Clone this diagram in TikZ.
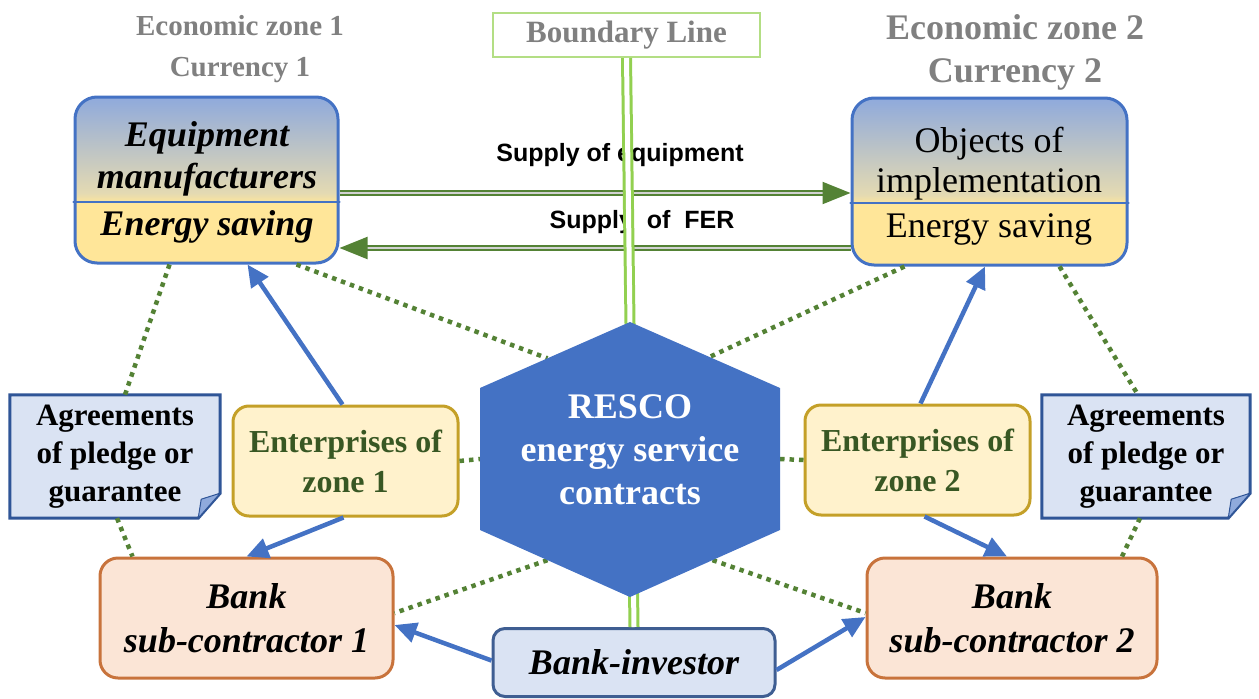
\documentclass[tikz,border=0pt]{standalone}
\usepackage{fontspec}
\setmainfont{Liberation Serif}
\newfontfamily\arialfont{Liberation Sans}
\usetikzlibrary{arrows.meta,calc,backgrounds}

\definecolor{zoneblue}{RGB}{143,170,220}
\definecolor{zonemid}{RGB}{228,218,178}
\definecolor{zoneyellow}{RGB}{255,230,153}
\definecolor{boxblue}{RGB}{68,114,196}
\definecolor{entfill}{RGB}{255,242,204}
\definecolor{entgold}{RGB}{196,160,40}
\definecolor{enttext}{RGB}{56,87,35}
\definecolor{agrfill}{RGB}{218,227,243}
\definecolor{agrdraw}{RGB}{47,85,151}
\definecolor{bankfill}{RGB}{251,229,214}
\definecolor{bankdraw}{RGB}{200,115,60}
\definecolor{dotgreen}{RGB}{84,130,53}
\definecolor{linegreen}{RGB}{146,208,80}
\definecolor{labelgray}{RGB}{128,128,128}

\pgfdeclareverticalshading{zoneshade}{100bp}{color(0bp)=(zoneyellow); color(25bp)=(zoneyellow); color(43bp)=(zoneyellow); color(46bp)=(zonemid); color(75bp)=(zoneblue); color(100bp)=(zoneblue)}

\newcommand\fsz[2]{\fontsize{#1}{#2}\selectfont}

\begin{document}
\begin{tikzpicture}[x=1pt, y=-1pt, line cap=round,
        zonebox/.style={draw=boxblue, line width=3pt, rounded corners=22pt,
                        shade, shading=zoneshade, minimum height=166pt},
        zonetext/.style={align=center, inner sep=0pt},
        headtext/.style={align=center, text=labelgray, inner sep=0pt},
        entbox/.style={draw=entgold, line width=3pt, fill=entfill, rounded corners=16pt,
                       minimum width=225pt, minimum height=110pt, inner sep=0pt, align=center,
                       text=enttext, font=\fsz{32}{40}\bfseries},
        agrtext/.style={align=center, minimum width=210pt, minimum height=123pt,
                        inner sep=0pt, font=\fsz{31}{38}\bfseries},
        agrbox/.style={draw=agrdraw, line width=3pt, fill=agrfill},
        bankbox/.style={draw=bankdraw, line width=3pt, fill=bankfill, rounded corners=18pt,
                        minimum height=120pt, inner sep=0pt, align=center,
                        font=\fsz{36}{44}\bfseries\itshape},
        bluearrow/.style={draw=boxblue, line width=4.5pt, line cap=butt,
                          -{Triangle[length=22pt,width=20pt]}},
        dotline/.style={draw=dotgreen, line width=4.5pt, line cap=butt,
                        dash pattern=on 4.5pt off 5pt},
        supply/.style={draw=dotgreen, line width=2pt, double=gray!35, double distance=2pt,
                       line cap=butt, -{Triangle[length=28pt,width=22pt]}},
        supplylbl/.style={inner sep=0pt, font=\fsz{25}{30}\arialfont\bfseries}
                     ]
\useasboundingbox (0,0) rectangle (1259,699);

\node[headtext, font=\fsz{29}{41}\bfseries] (zone1) at (240,49) {Economic zone 1\\Currency 1};
\node[headtext, font=\fsz{36}{43}\bfseries] (zone2) at (1015,52) {Economic zone 2\\Currency 2};
\node[draw=linegreen!70, line width=2pt, fill=white, minimum width=267pt, minimum height=44pt,
      inner sep=0pt, text=labelgray, font=\fsz{31}{36}\bfseries] (bline) at (626.5,35) {Boundary Line};

\node[zonebox, minimum width=263pt] (eqm) at (206.5,180) {};
\draw[boxblue, line width=2.5pt] ([yshift=-22pt]eqm.west) -- ([yshift=-22pt]eqm.east);
\node[zonetext, font=\fsz{36}{42}\bfseries\itshape] (eqmname) at (207,159) {Equipment\\manufacturers};
\node[zonetext, font=\fsz{36}{42}\bfseries\itshape] (eqmsave) at (207,227) {Energy saving};

\node[zonebox, minimum width=275pt, minimum height=167pt] (obj) at (989.5,181.5) {};
\draw[boxblue, line width=2.5pt] ([yshift=-21.5pt]obj.west) -- ([yshift=-21.5pt]obj.east);
\node[zonetext, font=\fsz{36}{40}] (objname) at (989,164) {Objects of\\implementation};
\node[zonetext, font=\fsz{36}{40}] (objsave) at (989,229) {Energy saving};

\node[entbox] (ent1) at (345.5,461) {Enterprises of\\zone 1};
\node[entbox] (ent2) at (917.5,460) {Enterprises of\\zone 2};

\node[agrtext] (agr1) at (115,456.5) {Agreements\\of pledge or\\guarantee};
\node[agrtext, minimum width=208pt] (agr2) at (1146,456.5) {Agreements\\of pledge or\\guarantee};
\begin{scope}[on background layer]
\foreach \a in {agr1,agr2}
    \filldraw[agrbox] (\a.north west) -- (\a.north east) -- ([yshift=25pt]\a.south east)
        -- ([xshift=-22pt]\a.south east) -- (\a.south west) -- cycle;
\end{scope}
\foreach \a in {agr1,agr2}
    \filldraw[fill=zoneblue, draw=agrdraw, line width=1pt, line join=round]
        ([yshift=25pt]\a.south east) -- ([xshift=-22pt]\a.south east)
        -- ([xshift=-19pt,yshift=19pt]\a.south east) -- cycle;

\node[bankbox, minimum width=293pt] (bank1) at (246.5,618) {Bank\\sub-contractor 1};
\node[bankbox, minimum width=290pt] (bank2) at (1012,618) {Bank\\sub-contractor 2};
\node[draw=agrdraw!80!gray, line width=3pt, fill=agrfill, rounded corners=12pt, minimum width=282pt,
      minimum height=68pt, inner sep=0pt, font=\fsz{36}{44}\bfseries\itshape] (inv) at (634,662.5) {Bank-investor};

\draw[supply] ([yshift=-13pt]eqm.east) -- ([yshift=-11.5pt]obj.west);
\draw[supply] ([yshift=-66.5pt]obj.west) -- ([yshift=-68pt]eqm.east);
\node[supplylbl] (lblequip) at (620,155) {Supply of equipment};
\node[supplylbl] (lblfer) at (642,222) {Supply\ \ of\ \ FER};

\draw[draw=linegreen, line width=3pt, double=white, double distance=5pt, line cap=butt]
    (bline.south) -- (inv.north);

\foreach \i/\px/\py in {1/0/-128, 2/150/-62, 3/150/80, 4/0/147, 5/-150/80, 6/-150/-62}
    \coordinate (hx\i) at (630+\px,450+\py);

\draw[dotline] ([xshift=90pt]eqm.south) -- ($(hx6)!0.45!(hx1)$);
\draw[dotline] ([xshift=-85pt]obj.south) -- ($(hx1)!0.53!(hx2)$);
\draw[dotline] (ent1.east) -- ($(hx6)!0.5!(hx5)$);
\draw[dotline] (ent2.west) -- ($(hx2)!0.5!(hx3)$);
\draw[dotline] ($(hx5)!0.45!(hx4)$) -- ([yshift=5pt]bank1.east);
\draw[dotline] ($(hx3)!0.45!(hx4)$) -- ([yshift=5pt]bank2.west);
\draw[dotline] ([xshift=-37pt]eqm.south) -- ([xshift=10pt]agr1.north);
\draw[dotline] ([xshift=2pt]agr1.south) -- ([xshift=-114pt]bank1.north);
\draw[dotline] ([xshift=70pt]obj.south) -- ([xshift=-8pt]agr2.north);
\draw[dotline] ([xshift=-6pt]agr2.south) -- ([xshift=110pt]bank2.north);

\fill[boxblue] (hx1) -- (hx2) -- (hx3) -- (hx4) -- (hx5) -- (hx6) -- cycle;
\node[align=center, inner sep=0pt, text=white, font=\fsz{36}{43}\bfseries] (resco) at (630,450)
    {RESCO\\energy service\\contracts};

\draw[bluearrow] ([xshift=-3pt]ent1.north) -- ([xshift=41pt]eqm.south);
\draw[bluearrow] ([xshift=-2pt]ent1.south) -- (bank1.north);
\draw[bluearrow] ([xshift=3pt]ent2.north) -- ([xshift=-4.5pt]obj.south);
\draw[bluearrow] ([xshift=7pt]ent2.south) -- ([xshift=-5pt]bank2.north);
\draw[bluearrow] ([yshift=2pt]inv.west) -- ([yshift=-7pt]bank1.east);
\draw[bluearrow] ([yshift=-7.5pt]inv.east) -- ([yshift=1pt]bank2.west);
\end{tikzpicture}
\end{document}
